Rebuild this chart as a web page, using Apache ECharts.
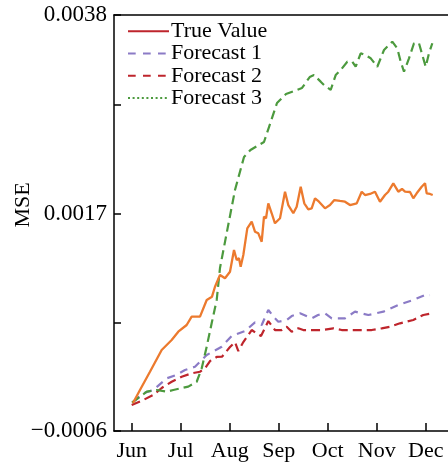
<!DOCTYPE html>
<html>
<head>
<meta charset="utf-8">
<script src="https://cdn.jsdelivr.net/npm/echarts@6/dist/echarts.min.js"></script>
<style>
  html, body { margin: 0; padding: 0; background: #fff; }
  #chart { width: 448px; height: 467px; }
</style>
</head>
<body>
<div id="chart"></div>
<script>
// Month labels placed at integer positions of the x axis (0 = Jun)
const months = ['Jun', 'Jul', 'Aug', 'Sep', 'Oct', 'Nov', 'Dec'];
const monthTicks = [0, 1, 2, 3, 4, 5, 6];

// Y axis ticks (labelled and unlabelled)
const yTicks = [-0.0006, 0.00055, 0.0017, 0.00285, 0.0038];
const yLabels = [-0.0006, 0.0017, 0.0038];

const seriesNames = ['True Value', 'Forecast 1', 'Forecast 2', 'Forecast 3'];

// [month position, MSE]
const trueValue = [
  [0.027, -0.000304], [0.169, -0.000166], [0.373, 0.000027], [0.612, 0.000257],
  [0.816, 0.000363], [0.951, 0.000450], [1.122, 0.000521], [1.224, 0.000609],
  [1.394, 0.000609], [1.531, 0.000786], [1.639, 0.000821], [1.700, 0.000926],
  [1.802, 0.001050], [1.904, 0.001015], [2.006, 0.001085], [2.088, 0.001314],
  [2.143, 0.001209], [2.190, 0.001227], [2.224, 0.001138], [2.278, 0.001262],
  [2.359, 0.001544], [2.449, 0.001614], [2.516, 0.001508], [2.584, 0.001491],
  [2.653, 0.001402], [2.700, 0.001667], [2.741, 0.001650], [2.788, 0.001808],
  [2.857, 0.001703], [2.924, 0.001597], [3.027, 0.001650], [3.129, 0.001931],
  [3.196, 0.001790], [3.298, 0.001703], [3.367, 0.001772], [3.449, 0.001984],
  [3.522, 0.001808], [3.604, 0.001745], [3.673, 0.001755], [3.741, 0.001861],
  [3.822, 0.001825], [3.945, 0.001755], [4.047, 0.001790], [4.135, 0.001843],
  [4.251, 0.001833], [4.353, 0.001825], [4.455, 0.001790],
  [4.592, 0.001808], [4.694, 0.001931], [4.761, 0.001896], [4.863, 0.001907],
  [4.965, 0.001931], [5.067, 0.001825], [5.169, 0.001896], [5.237, 0.001931],
  [5.339, 0.002020], [5.441, 0.001931], [5.516, 0.001960], [5.578, 0.001931],
  [5.680, 0.001928], [5.747, 0.001861], [5.816, 0.001914], [5.918, 0.001984],
  [5.986, 0.002020], [6.020, 0.001914], [6.088, 0.001907], [6.143, 0.001896]
];

const forecast1 = [
  [0.033, -0.000290], [0.237, -0.000201], [0.441, -0.000166], [0.714, -0.000043],
  [0.904, -0.000008], [1.088, 0.000045], [1.292, 0.000080], [1.531, 0.000204],
  [1.837, 0.000292], [2.041, 0.000405], [2.312, 0.000458], [2.516, 0.000548],
  [2.653, 0.000521], [2.788, 0.000680], [2.924, 0.000592], [2.992, 0.000556],
  [3.163, 0.000574], [3.265, 0.000616], [3.435, 0.000645], [3.673, 0.000592],
  [3.802, 0.000627], [3.945, 0.000645], [4.082, 0.000592], [4.353, 0.000592],
  [4.557, 0.000662], [4.829, 0.000627], [5.135, 0.000662], [5.441, 0.000733],
  [5.747, 0.000786], [5.986, 0.000838], [6.088, 0.000838]
];

const forecast2 = [
  [0.000, -0.000325], [0.237, -0.000272], [0.441, -0.000219], [0.612, -0.000145],
  [0.816, -0.000079], [1.020, -0.000026], [1.224, 0.000010], [1.394, 0.000027],
  [1.496, 0.000063], [1.598, 0.000140], [1.735, 0.000183], [1.843, 0.000186],
  [2.006, 0.000288], [2.108, 0.000341], [2.176, 0.000246], [2.278, 0.000341],
  [2.449, 0.000468], [2.567, 0.000426], [2.639, 0.000405], [2.788, 0.000563],
  [2.924, 0.000468], [3.061, 0.000468], [3.163, 0.000503], [3.265, 0.000450],
  [3.400, 0.000486], [3.502, 0.000468], [3.673, 0.000468], [3.878, 0.000468],
  [4.114, 0.000486], [4.286, 0.000468], [4.455, 0.000468], [4.694, 0.000468],
  [4.898, 0.000468], [5.102, 0.000486], [5.271, 0.000503], [5.476, 0.000539],
  [5.747, 0.000574], [5.951, 0.000627], [6.122, 0.000645]
];

const forecast3 = [
  [0.006, -0.000300], [0.306, -0.000184], [0.510, -0.000166], [0.714, -0.000184],
  [0.849, -0.000166], [1.155, -0.000131], [1.327, -0.000079], [1.429, 0.000063],
  [1.531, 0.000292], [1.633, 0.000542], [1.735, 0.000786], [1.802, 0.001124],
  [1.939, 0.001494], [2.108, 0.001949], [2.292, 0.002298], [2.424, 0.002372],
  [2.557, 0.002414], [2.700, 0.002457], [2.802, 0.002615], [2.965, 0.002869],
  [3.149, 0.002964], [3.373, 0.003007], [3.476, 0.003028], [3.633, 0.003144],
  [3.720, 0.003165], [3.857, 0.003095], [3.924, 0.003060], [4.061, 0.003007],
  [4.163, 0.003165], [4.265, 0.003218], [4.400, 0.003306], [4.502, 0.003306],
  [4.571, 0.003253], [4.673, 0.003395], [4.761, 0.003377], [4.878, 0.003342],
  [5.012, 0.003253], [5.149, 0.003430], [5.318, 0.003518], [5.420, 0.003448],
  [5.490, 0.003306], [5.557, 0.003200], [5.659, 0.003342], [5.761, 0.003501],
  [5.863, 0.003501], [5.931, 0.003377], [6.000, 0.003253], [6.067, 0.003395],
  [6.135, 0.003501]
];

const FONT = "'Liberation Serif', 'Times New Roman', serif";
const ORANGE = '#EC7A2E';
const PURPLE = '#8B7BC6';
const RED = '#BE252C';
const GREEN = '#4C9A3E';
const NO_MARKER = { color: 'rgba(0,0,0,0)', borderColor: 'rgba(0,0,0,0)', borderWidth: 0 };

const chart = echarts.init(document.getElementById('chart'), null, { renderer: 'canvas' });

const axisLineStyle = { color: '#000', width: 1.5 };

chart.setOption({
  animation: false,
  backgroundColor: '#fff',
  grid: { left: 114, right: 0, top: 15, bottom: 36, containLabel: false, outerBoundsMode: 'none' },
  legend: {
    left: 127,
    top: 20,
    padding: 0,
    orient: 'vertical',
    itemWidth: 41,
    itemHeight: 12,
    itemGap: 0,
    textStyle: { fontFamily: FONT, fontSize: 22, color: '#000', lineHeight: 22.3, padding: [0, 0, 0, -3] },
    data: [
      { name: seriesNames[0], lineStyle: { color: RED, type: 'solid', width: 2 }, itemStyle: NO_MARKER },
      { name: seriesNames[1], lineStyle: { color: PURPLE, type: [7.7, 7.3], width: 2 }, itemStyle: NO_MARKER },
      { name: seriesNames[2], lineStyle: { color: RED, type: [7.7, 7.3], width: 2 }, itemStyle: NO_MARKER },
      { name: seriesNames[3], lineStyle: { color: GREEN, type: [2, 2.6], width: 2 }, itemStyle: NO_MARKER }
    ]
  },
  xAxis: [
    {
      type: 'value',
      min: -0.361,
      max: 6.455,
      axisLine: { onZero: false, lineStyle: axisLineStyle },
      splitLine: { show: false },
      axisTick: { inside: true, length: 8, customValues: monthTicks, lineStyle: axisLineStyle },
      axisLabel: {
        customValues: monthTicks,
        formatter: v => months[Math.round(v)],
        fontFamily: FONT, fontSize: 22, color: '#000', margin: 9
      }
    },
    {
      type: 'value',
      position: 'top',
      min: -0.361,
      max: 6.455,
      axisLine: { show: true, onZero: false, lineStyle: axisLineStyle },
      axisTick: { show: false },
      axisLabel: { show: false },
      splitLine: { show: false }
    }
  ],
  yAxis: {
    type: 'value',
    min: -0.0006,
    max: 0.0038,
    name: 'MSE',
    nameLocation: 'middle',
    nameGap: 80,
    nameMoveOverlap: false,
    nameTextStyle: { fontFamily: FONT, fontSize: 22, color: '#000', padding: [0, 0, 0, 36] },
    axisLine: { show: true, onZero: false, lineStyle: axisLineStyle },
    splitLine: { show: false },
    axisTick: { show: true, inside: true, length: 7, customValues: yTicks, lineStyle: axisLineStyle },
    axisLabel: {
      customValues: yLabels,
      formatter: v => (v < 0 ? '\u2212' : '') + Math.abs(v).toFixed(4),
      fontFamily: FONT, fontSize: 23, color: '#000', margin: 7
    }
  },
  series: [
    {
      name: seriesNames[0], type: 'line', data: trueValue, symbol: 'none', z: 3,
      lineStyle: { color: ORANGE, width: 2.3 }, itemStyle: { color: ORANGE }
    },
    {
      name: seriesNames[1], type: 'line', data: forecast1, symbol: 'none', z: 2,
      lineStyle: { color: PURPLE, width: 2.2, type: [8, 6] }, itemStyle: { color: PURPLE }
    },
    {
      name: seriesNames[2], type: 'line', data: forecast2, symbol: 'none', z: 2,
      lineStyle: { color: RED, width: 2.2, type: [9, 5] }, itemStyle: { color: RED }
    },
    {
      name: seriesNames[3], type: 'line', data: forecast3, symbol: 'none', z: 2,
      lineStyle: { color: GREEN, width: 2.2, type: [9, 5] }, itemStyle: { color: GREEN }
    }
  ]
});
</script>
</body>
</html>
